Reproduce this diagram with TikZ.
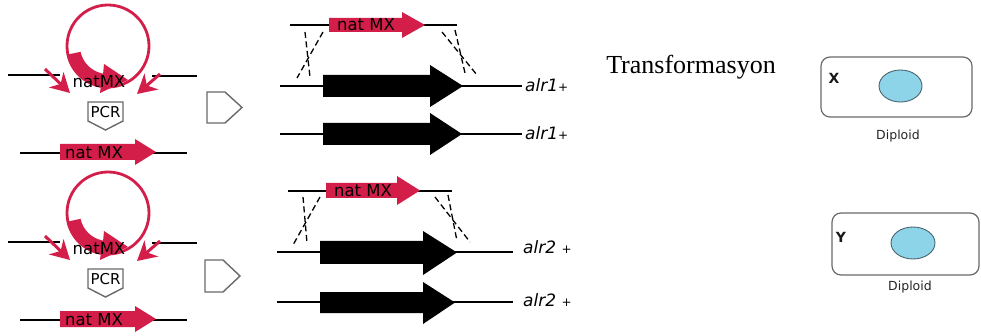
\documentclass[tikz,border=0pt]{standalone}
\usepackage{fontspec}
\setmainfont{Liberation Serif}
\setsansfont{DejaVu Sans}
\usetikzlibrary{arrows.meta}

\definecolor{natred}{RGB}{212,30,74}
\definecolor{cellblue}{RGB}{142,212,232}
\definecolor{cellrim}{RGB}{72,100,110}
\definecolor{boxgray}{RGB}{105,105,105}

\begin{document}
\begin{tikzpicture}[x=1pt,y=-1pt,
  dna/.style={black, line width=2.6pt},
  gene/.style={black, line width=1.5pt},
  cross/.style={black, line width=1.3pt, dash pattern=on 6pt off 3.5pt},
  plasmid/.style={natred, line width=2.8pt},
  primer/.style={natred, line width=3pt, -{Stealth[length=19pt,width=21pt,inset=6pt]}},
  tag/.style={font=\sffamily\fontsize{16.5}{16.5}\selectfont, inner sep=0pt},
  pcrbox/.style={draw=boxgray, line width=1.4pt, fill=white},
  gtype/.style={font=\sffamily\itshape\fontsize{17}{17}\selectfont, inner sep=0pt, anchor=west},
  cell/.style={draw=boxgray, line width=1.2pt, rounded corners=9pt},
  nucleus/.style={draw=cellrim, line width=0.9pt, fill=cellblue},
  small/.style={font=\sffamily\fontsize{12.5}{12.5}\selectfont, text=black!85, inner sep=0pt},
  strain/.style={font=\sffamily\bfseries\fontsize{14}{14}\selectfont, text=black!90, inner sep=0pt}]
\useasboundingbox (0,0) rectangle (981,336);

% plasmid, primers and PCR product (drawn twice)
\foreach \dy in {0,167}{
\begin{scope}[shift={(0,\dy)}]
\draw[dna] (8,75) -- (60,75);
\draw[dna] (152,76) -- (197,76);
\draw[plasmid] (108,46) circle[radius=41];
\fill[natred] (66.9,54.7) arc[start angle=168, end angle=100, radius=42]
  -- (100,93) -- (128,80) -- (104,64) -- (103.1,73.6)
  arc[start angle=100, end angle=168, radius=28] -- cycle;
\draw[primer] (45,69) -- (70,93);
\draw[primer] (160,74) -- (137,94);
\node[tag] (circtag\dy) at (99,82) {natMX};
\draw[pcrbox] (88,102) -- (123,102) -- (123,121) -- (105.5,130) -- (88,121) -- cycle;
\node[tag, font=\sffamily\fontsize{15}{15}\selectfont] (pcr\dy) at (105.5,112) {PCR};
\draw[dna] (20,153) -- (187,153);
\fill[natred] (60,144) -- (135,144) -- (135,139) -- (156,152) -- (135,165) -- (135,160) -- (60,160) -- cycle;
\node[tag] (prodtag\dy) at (94,152.5) {nat MX};
\end{scope}
}

% cassette and alr1 copies
\draw[pcrbox] (207,92) -- (225,92) -- (242,107.5) -- (225,123) -- (207,123) -- cycle;
\draw[dna] (290,25) -- (457,25);
\fill[natred] (329,18) -- (402,18) -- (402,12) -- (425,25) -- (402,38) -- (402,32) -- (329,32) -- cycle;
\node[tag] (cas1) at (366,25) {nat MX};
\draw[cross] (305,32) -- (310,77);
\draw[cross] (323,32) -- (297,78);
\draw[cross] (442,32) -- (477,75);
\draw[cross] (455,30) -- (465,73);
\draw[gene] (280,86) -- (522,86);
\fill (323,75) -- (430,75) -- (430,65) -- (463,86) -- (430,107) -- (430,97) -- (323,97) -- cycle;
\draw[gene] (280,134) -- (522,134);
\fill (323,123) -- (430,123) -- (430,113) -- (462,134) -- (430,155) -- (430,145) -- (323,145) -- cycle;
\node[gtype] (alra) at (525,85) {alr1{\fontsize{12}{12}\selectfont +}};
\node[gtype] (alrb) at (525,133) {alr1{\fontsize{12}{12}\selectfont +}};

% cassette and alr2 copies
\draw[pcrbox] (205,260) -- (223,260) -- (240,276) -- (223,292) -- (205,292) -- cycle;
\draw[dna] (288,191) -- (452,191);
\fill[natred] (326,183) -- (397,183) -- (397,176) -- (420,190.5) -- (397,205) -- (397,198) -- (326,198) -- cycle;
\node[tag] (cas2) at (363,190.5) {nat MX};
\draw[cross] (303,197) -- (307,243);
\draw[cross] (320,197) -- (293,245);
\draw[cross] (435,197) -- (470,242);
\draw[cross] (448,195) -- (457,241);
\draw[gene] (277,252) -- (513,252);
\fill (320,241) -- (423,241) -- (423,231) -- (457,252.5) -- (423,275) -- (423,264) -- (320,264) -- cycle;
\draw[gene] (277,302) -- (513,302);
\fill (320,292) -- (423,292) -- (423,282) -- (455,302.5) -- (423,324) -- (423,313) -- (320,313) -- cycle;
\node[gtype] (alrc) at (523,247) {alr2 {\fontsize{12}{12}\selectfont +}};
\node[gtype] (alrd) at (523,300) {alr2 {\fontsize{12}{12}\selectfont +}};

% diploid cells
\node[font=\fontsize{26}{26}\selectfont, inner sep=0pt] (trans) at (691,67) {Transformasyon};
\draw[cell] (821,57) rectangle (972,117);
\node[strain] (cx) at (834,78) {X};
\draw[nucleus] (900.5,86) ellipse[x radius=21.5, y radius=16];
\node[small] (dipx) at (898,136) {Diploid};
\draw[cell] (832,213) rectangle (979,275);
\node[strain] (cy) at (841,237) {Y};
\draw[nucleus] (913,243) ellipse[x radius=22, y radius=16];
\node[small] (dipy) at (910,287) {Diploid};
\end{tikzpicture}
\end{document}
